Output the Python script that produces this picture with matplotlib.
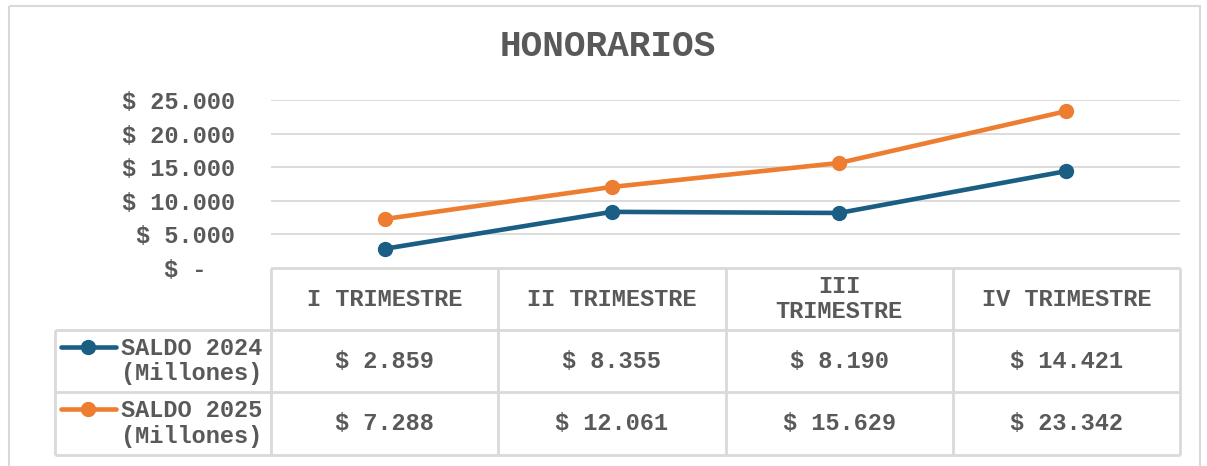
import numpy as np
import matplotlib.pyplot as plt
from matplotlib.patches import Rectangle

quarters = ['I TRIMESTRE', 'II TRIMESTRE', 'III\nTRIMESTRE', 'IV TRIMESTRE']
saldo_2024 = [2859, 8355, 8190, 14421]
saldo_2025 = [7288, 12061, 15629, 23342]
series_names = ['SALDO 2024\n(Millones)', 'SALDO 2025\n(Millones)']
series_colors = ['#1B5E84', '#ED7D31']
y_ticks = [0, 5000, 10000, 15000, 20000, 25000]

TXT = '#595959'
GRID = '#D9D9D9'
FONT = 'Liberation Mono'


def money(v):
    # accounting style: thousands with dots, zero shown as a dash
    if v == 0:
        return '$ -  '
    return '$ ' + f'{v:,}'.replace(',', '.')


W, H = 1207, 466
fig = plt.figure(figsize=(W / 100, H / 100), dpi=100)

# background layer in pixel units for the frame and the data table
bg = fig.add_axes([0, 0, 1, 1])
bg.set_xlim(0, W)
bg.set_ylim(H, 0)
bg.axis('off')
bg.add_patch(Rectangle((9, 6), 1191, 480, fill=False, edgecolor=GRID, lw=1.5))

left, right, top, zero = 271, 1180, 100, 268
ax = fig.add_axes([left / W, 1 - zero / H, (right - left) / W, (zero - top) / H])
ax.set_xlim(-0.5, 3.5)
ax.set_ylim(0, 25000)
for s in ax.spines.values():
    s.set_visible(False)
ax.set_xticks([])
ax.set_yticks(y_ticks)
ax.set_yticklabels([money(v) for v in y_ticks], fontfamily=FONT,
                   fontweight='bold', fontsize=17, color=TXT)
ax.tick_params(axis='y', length=0, pad=26)
ax.grid(axis='y', color=GRID, lw=1.3)
ax.set_axisbelow(True)

x = np.arange(len(quarters))
for vals, c in zip([saldo_2024, saldo_2025], series_colors):
    ax.plot(x, vals, color=c, lw=3.3, marker='o', ms=10, clip_on=False,
            solid_capstyle='round', zorder=3)

fig.text(0.5035, 1 - 47 / H, 'HONORARIOS', ha='center', va='center',
         fontfamily=FONT, fontweight='bold', fontsize=26, color=TXT)

# data table under the plot
edges = left + np.arange(len(quarters) + 1) * (right - left) / len(quarters)
centers = (edges[:-1] + edges[1:]) / 2
rows = [268, 330, 392, 455]
key_left = 55
tkw = dict(fontfamily=FONT, fontweight='bold', fontsize=17, color=TXT,
           ha='center', va='center', linespacing=1.15)

bg.hlines(rows[0], left, right, color=GRID, lw=2)
bg.hlines(rows[1:], key_left, right, color=GRID, lw=2)
bg.vlines(key_left, rows[1], rows[-1], color=GRID, lw=2)
bg.vlines(edges, rows[0], rows[-1], color=GRID, lw=2)

for cx, q in zip(centers, quarters):
    bg.text(cx, (rows[0] + rows[1]) / 2, q, **tkw)

for r, (vals, name, c) in enumerate(zip([saldo_2024, saldo_2025],
                                         series_names, series_colors)):
    y0, y1 = rows[r + 1], rows[r + 2]
    ym = (y0 + y1) / 2
    for cx, v in zip(centers, vals):
        bg.text(cx, ym, money(v), **tkw)
    bg.text(192, ym, name, **tkw)
    bg.plot([61, 116], [y0 + 17, y0 + 17], color=c, lw=3.3,
            solid_capstyle='round')
    bg.plot([88], [y0 + 17], 'o', color=c, ms=10)

fig.savefig('out.png', dpi=100)
